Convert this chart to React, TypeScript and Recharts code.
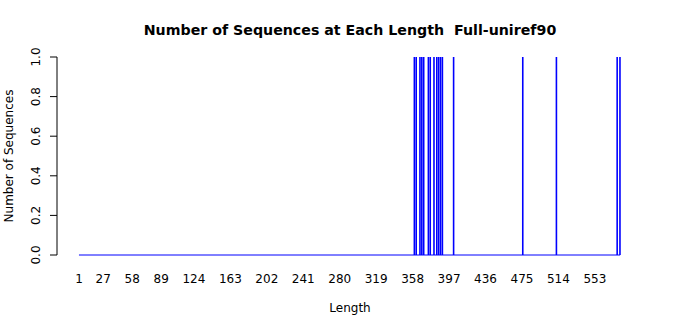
import React from "react";
import { ComposedChart, Bar, XAxis, YAxis, ReferenceLine } from "recharts";

const lengths = [360, 362, 366, 368, 370, 375, 377, 381, 384, 386, 388, 390, 402, 476, 512, 577, 580];
const counts = [1, 1, 1, 1, 1, 1, 1, 1, 1, 1, 1, 1, 1, 1, 1, 1, 1];
const xTicks = [1, 27, 58, 89, 124, 163, 202, 241, 280, 319, 358, 397, 436, 475, 514, 553];
const yTicks = [0, 0.2, 0.4, 0.6, 0.8, 1.0];
const minLength = 1;
const maxLength = 580;

const data = lengths.map((l, i) => ({ length: l, count: counts[i] }));

const FONT = "'DejaVu Sans', sans-serif";

const XTick = (props: any) => {
  const { x, y, payload } = props;
  return (
    <text x={x} y={y + 20} textAnchor="middle" fontFamily={FONT} fontSize={12} fill="#000">
      {payload.value}
    </text>
  );
};

const YTick = (props: any) => {
  const { y, payload } = props;
  const cx = 36;
  return (
    <text
      x={cx}
      y={y}
      transform={`rotate(-90, ${cx}, ${y})`}
      textAnchor="middle"
      dominantBaseline="central"
      fontFamily={FONT}
      fontSize={12}
      fill="#000"
    >
      {Number(payload.value).toFixed(1)}
    </text>
  );
};

export default function App() {
  return (
    <div style={{ position: "absolute", left: 0, top: 0, width: 700, height: 315, background: "#fff" }}>
      <div
        style={{
          position: "absolute",
          left: 0,
          top: 20,
          width: 700,
          textAlign: "center",
          fontFamily: FONT,
          fontWeight: "bold",
          fontSize: 14.2,
          lineHeight: "20px",
          color: "#000",
          whiteSpace: "pre",
        }}
      >
        {"Number of Sequences at Each Length  Full-uniref90"}
      </div>
      <ComposedChart
        width={700}
        height={315}
        data={data}
        margin={{ top: 57, right: 57, left: 0, bottom: 0 }}
      >
        <XAxis
          dataKey="length"
          type="number"
          domain={[-22.5, 604.5]}
          allowDataOverflow
          ticks={xTicks}
          interval={0}
          axisLine={false}
          tickLine={false}
          tick={<XTick />}
          height={60}
          label={{ value: "Length", position: "insideBottom", offset: 3.5, fontFamily: FONT, fontSize: 12, fill: "#000" }}
        />
        <YAxis
          type="number"
          domain={[0, 1]}
          ticks={yTicks}
          interval={0}
          width={57}
          axisLine={{ stroke: "#000" }}
          tickLine={{ stroke: "#000" }}
          tickSize={7}
          tick={<YTick />}
          label={{
            value: "Number of Sequences",
            angle: -90,
            position: "insideLeft",
            offset: 9,
            fontFamily: FONT,
            fontSize: 12,
            fill: "#000",
            style: { textAnchor: "middle" },
          }}
        />
        <ReferenceLine
          segment={[
            { x: minLength, y: 0 },
            { x: maxLength, y: 0 },
          ]}
          stroke="#0000FF"
          strokeWidth={1}
          ifOverflow="visible"
        />
        <Bar dataKey="count" fill="#0000FF" barSize={1.6} isAnimationActive={false} />
      </ComposedChart>
    </div>
  );
}
